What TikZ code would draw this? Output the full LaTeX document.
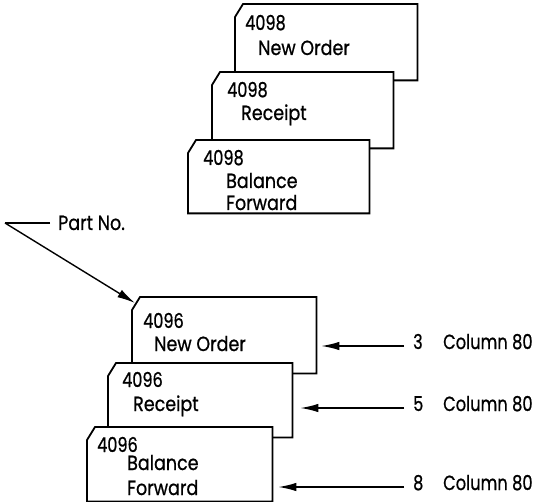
\documentclass[tikz,border=0pt]{standalone}
\usepackage{fontspec}
\setmainfont{Poppins}
\newfontfamily\cardfont{Poppins}[FakeBold=0.9]
\usetikzlibrary{arrows.meta,calc}
\tikzset{
  cardframe/.style={draw=none,fill=none,inner sep=0pt,anchor=north west},
  cardline/.style={draw=black,fill=white,line width=1.8pt,line join=miter},
  txt/.style={inner sep=0pt,anchor=base west,transform shape,yscale=1.17,
    font=\cardfont\fontsize{17.5}{19}\selectfont},
  num/.style={txt,xscale=0.92},
  col/.style={txt,xscale=0.93},
  arr/.style={line width=1.4pt,-{Latex[length=18pt,width=8.5pt]}},
  lead/.style={line width=1.4pt}
}
% outline of a punched card with its upper left corner cut off
\newcommand\cardoutline[1]{%
  \filldraw[cardline] ($(#1.north west)+(0,13)$) -- ($(#1.north west)+(8,0)$)
    -- (#1.north east) -- (#1.south east) -- (#1.south west) -- cycle;}
\begin{document}
\begin{tikzpicture}[x=1pt,y=-1pt]
\useasboundingbox (0,0) rectangle (535,502);

% ---- part 4098 ----
\node[cardframe,minimum width=182pt,minimum height=76pt] (A) at (235,4) {};
\node[cardframe,minimum width=181pt,minimum height=76pt] (B) at (212,72) {};
\node[cardframe,minimum width=181pt,minimum height=73pt] (C) at (188,140) {};
\cardoutline{A}
\cardoutline{B}
\cardoutline{C}
\node[num] (a1) at (245,30) {4098};
\node[txt] (a2) at (258,55) {New Order};
\node[num] (b1) at (227,97) {4098};
\node[txt] (b2) at (241,120) {Receipt};
\node[num] (c1) at (203,165) {4098};
\node[txt] (c2) at (226,188) {Balance};
\node[txt] (c3) at (226,210) {Forward};

% ---- part 4096 ----
\node[cardframe,minimum width=184pt,minimum height=76pt] (D) at (132,297) {};
\node[cardframe,minimum width=184pt,minimum height=74pt] (E) at (108,363) {};
\node[cardframe,minimum width=185pt,minimum height=74pt] (F) at (87,427) {};
\cardoutline{D}
\cardoutline{E}
\cardoutline{F}
\node[num] (d1) at (143,328) {4096};
\node[txt] (d2) at (154,351) {New Order};
\node[num] (e1) at (122,387) {4096};
\node[txt] (e2) at (133,411) {Receipt};
\node[num] (f1) at (97,452) {4096};
\node[txt] (f2) at (127,470) {Balance};
\node[txt] (f3) at (127,495) {Forward};

% ---- part number pointer ----
\node[txt] (pn) at (58,230) {Part No.};
\coordinate (pv) at (5,223);
\coordinate (pt) at ($(D.north west)+(3,6)$);
\draw[lead] (pn.west |- pv) ++(-8,0) -- (pv);
\draw[arr] (pv) -- (pt);

% ---- column 80 codes ----
\node[num] (n3) at (413,349) {3};
\node[num] (n5) at (413,411) {5};
\node[num] (n8) at (413,490) {8};
\node[col] (k3) at (443,349) {Column 80};
\node[col] (k5) at (443,411) {Column 80};
\node[col] (k8) at (443,490) {Column 80};
\coordinate (t3) at ($(D.east |- 0,346)+(5,0)$);
\coordinate (t5) at ($(E.east |- 0,408)+(8,0)$);
\coordinate (t8) at ($(F.east |- 0,487)+(6,0)$);
\draw[arr] (n3.west |- t3) ++(-9,0) -- (t3);
\draw[arr] (n5.west |- t5) ++(-9,0) -- (t5);
\draw[arr] (n8.west |- t8) ++(-9,0) -- (t8);
\end{tikzpicture}
\end{document}
